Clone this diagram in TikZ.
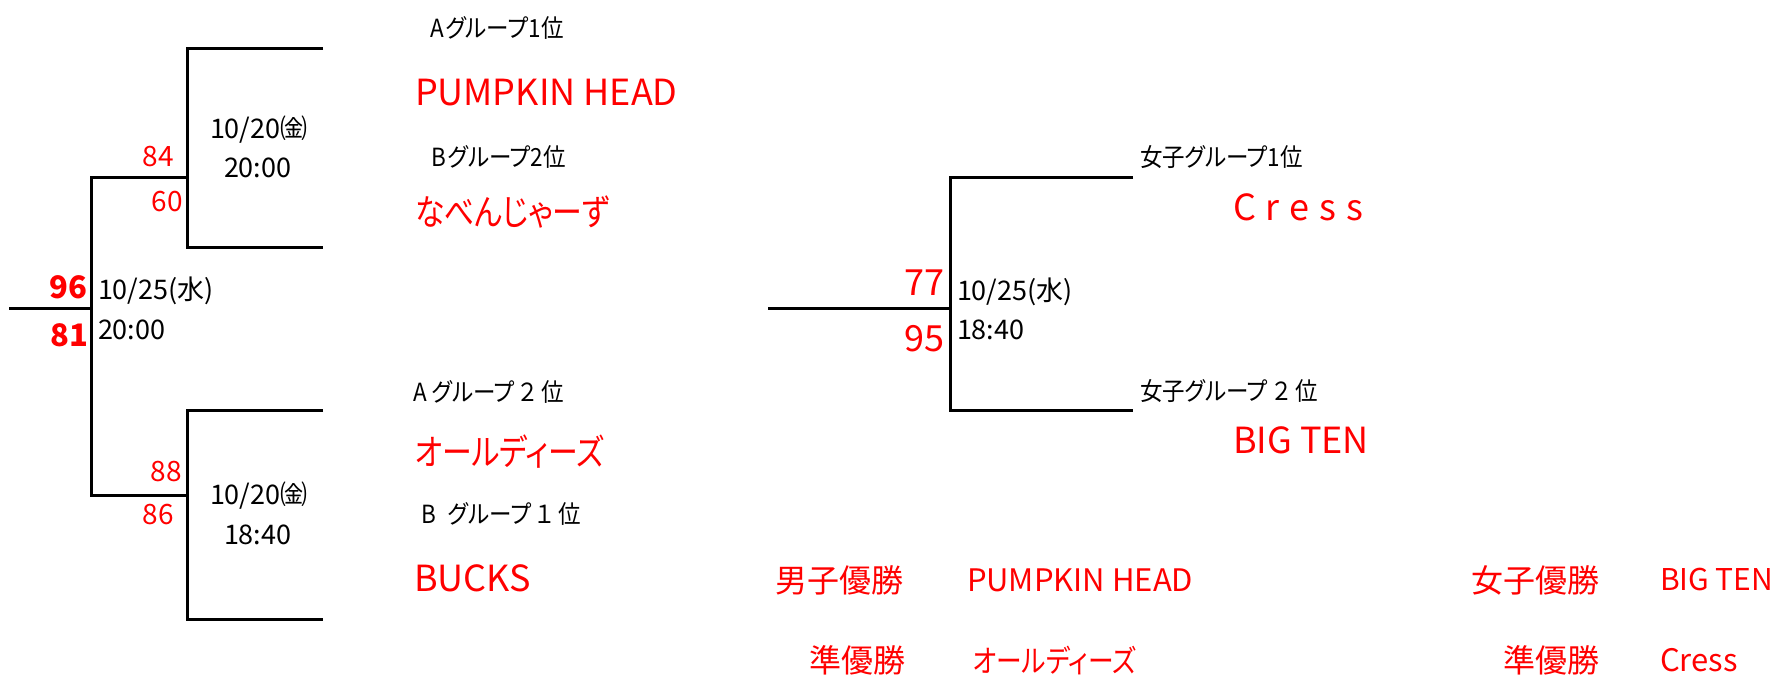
\documentclass[tikz,border=0pt]{standalone}
\usepackage{fontspec}
\setmainfont{Noto Sans CJK JP}[RawFeature=+palt]
\newfontfamily\jpn{Noto Sans CJK JP}[RawFeature=+palt,FakeStretch=0.9]
\newfontfamily\jpt{Noto Sans CJK JP}[RawFeature=+palt,FakeStretch=0.83]
\newcommand{\fs}[1]{\fontsize{#1}{#1}\selectfont}
\newcommand{\gap}{\kern2.5pt}
\begin{document}
\begin{tikzpicture}[x=0.5pt,y=-0.5pt,
  every node/.style={inner sep=0pt,outer sep=0pt},
  brk/.style={line width=1.5pt,line join=miter},
  lbl/.style={anchor=west,text=black,font=\jpn\fs{12.5pt}},
  team/.style={anchor=west,text=red,font=\fs{18pt}},
  teamjp/.style={anchor=west,text=red,font=\jpt\fs{18pt}},
  date/.style={anchor=west,text=black,font=\fs{13.5pt}},
  sc/.style={anchor=east,text=red,font=\fs{14pt}},
  scb/.style={anchor=east,text=red,font=\fs{15.5pt}\bfseries},
  scl/.style={anchor=east,text=red,font=\fs{18pt}},
  resl/.style={anchor=east,text=red,font=\fs{16pt}},
  resn/.style={anchor=west,text=red,font=\fs{15.5pt}},
  resnjp/.style={anchor=west,text=red,font=\jpt\fs{15.5pt}}]
\fill[white] (0,0) rectangle (1777,678);
\useasboundingbox (0,0) rectangle (1777,678);
% left bracket coordinates
\coordinate (r0) at (9,309);
\coordinate (m0) at (91,309);
\coordinate (mt) at (91,178);
\coordinate (mb) at (91,495);
\coordinate (uj) at (187,178);
\coordinate (lj) at (187,495);
\coordinate (u1) at (323,49);
\coordinate (u2) at (323,248);
\coordinate (l1) at (323,411);
\coordinate (l2) at (323,619);
\draw[brk] (r0) -- (m0);
\draw[brk] (uj) -- (mt) -- (mb) -- (lj);
\draw[brk] (u1) -| (uj) |- (u2);
\draw[brk] (l1) -| (lj) |- (l2);
% women's bracket
\coordinate (w0) at (768,309);
\coordinate (wj) at (950,309);
\coordinate (w1) at (1133,178);
\coordinate (w2) at (1133,411);
\draw[brk] (w0) -- (wj);
\draw[brk] (w1) -| (wj) |- (w2);
% left labels
\node[lbl] (ga1) at (430,28) {A\kern1pt グループ1位};
\node[team] (t1) at (415,93) {PUMPKIN HEAD};
\node[lbl] (gb2) at (431,157) {B\kern1pt グループ2位};
\node[teamjp] (t2) at (415,212) {なべんじゃーず};
\node[lbl] (ga2) at (413,392) {A グループ\gap ２\gap 位};
\node[teamjp] (t3) at (415,452) {オールディーズ};
\node[lbl] (gb1) at (421,514) {B\enspace グループ\gap １\gap 位};
\node[team] (t4) at (414,578) {BUCKS};
% dates
\node[date] (d1a) at (210,130) {10/20㈮};
\node[date] (d1b) at (224,168) {20:00};
\node[date] (d2a) at (98,291) {10/25(水)};
\node[date] (d2b) at (98,330) {20:00};
\node[date] (d3a) at (210,496) {10/20㈮};
\node[date] (d3b) at (224,535) {18:40};
% scores
\node[sc] (s84) at (174,157) {84};
\node[sc] (s60) at (183,202) {60};
\node[scb] (s96) at (87,287) {96};
\node[scb] (s81) at (88,335) {81};
\node[sc] (s88) at (182,472) {88};
\node[sc] (s86) at (174,515) {86};
% women's labels
\node[lbl] (wg1) at (1140,157) {女子グループ1位};
\node[team] (wt1) at (1233,207) {C\kern5pt r\kern5pt e\kern5pt s\kern5pt s};
\node[scl] (s77) at (944,283) {77};
\node[scl] (s95) at (944,339) {95};
\node[date] (d4a) at (957,292) {10/25(水)};
\node[date] (d4b) at (957,330) {18:40};
\node[lbl] (wg2) at (1140,391) {女子グループ\gap ２\gap 位};
\node[team] (wt2) at (1233,440) {BIG TEN};
% results
\node[resl] (r1) at (903,580) {男子優勝};
\node[resn] (r1n) at (967,580) {PUMPKIN HEAD};
\node[resl] (r2) at (905,660) {準優勝};
\node[resnjp] (r2n) at (973,660) {オールディーズ};
\node[resl] (r3) at (1599,580) {女子優勝};
\node[resn,font=\fs{15pt}] (r3n) at (1660,580) {BIG TEN};
\node[resl] (r4) at (1599,660) {準優勝};
\node[resn] (r4n) at (1660,660) {Cress};
\end{tikzpicture}
\end{document}
